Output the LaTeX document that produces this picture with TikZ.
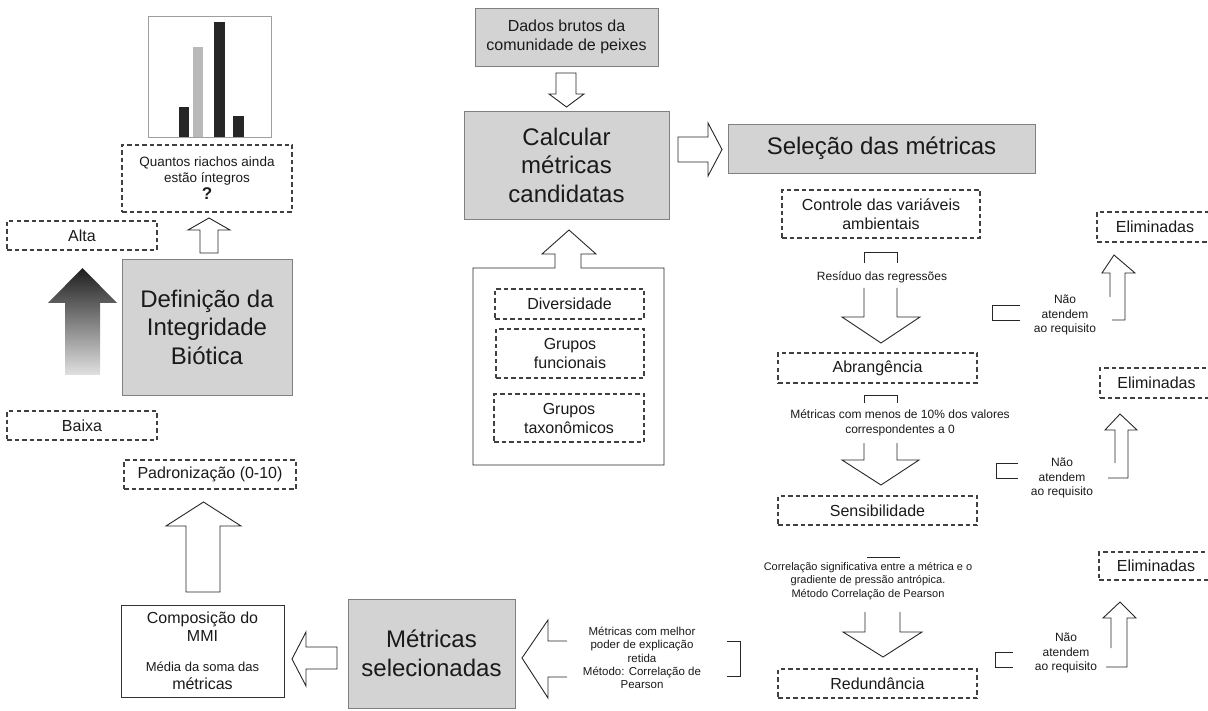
\documentclass[tikz,border=0pt]{standalone}
\usepackage{fontspec}
\setmainfont{Liberation Sans}
\definecolor{txt}{HTML}{1A1A1A}
\definecolor{boxgray}{HTML}{D3D3D3}
\definecolor{bordergray}{HTML}{808080}
\definecolor{dashgray}{HTML}{404040}
\begin{document}
\begin{tikzpicture}[x=1pt,y=-1pt,
  box/.style={inner sep=0pt, outer sep=0pt, align=center, text=txt},
  gbox/.style={box, draw=bordergray, fill=boxgray, line width=0.9pt},
  dbox/.style={box, draw=dashgray, dash pattern=on 4.5pt off 3pt, line width=1.25pt},
  wbox/.style={box, draw=black!80, line width=0.9pt},
  barrow/.style={draw=black!85, fill=white, line width=0.9pt, line join=miter},
  bline/.style={draw=black!85, line width=0.9pt},
  lbl/.style={inner sep=0pt, outer sep=0pt, align=center, text=txt},
  fL/.style={font=\fontsize{24}{28.5}\selectfont},
  fM/.style={font=\fontsize{16}{19}\selectfont},
  fS/.style={font=\fontsize{12}{14.5}\selectfont},
  fXS/.style={font=\fontsize{11}{13.8}\selectfont},
]
\useasboundingbox (0,0) rectangle (1208,711);

% ---------- chart ----------
\draw[draw=gray!75, line width=0.8pt] (148,16) rectangle (271,137);
\fill[black!85] (179,107) rectangle (189,137);
\fill[gray!55] (193,47) rectangle (203,137);
\fill[black!85] (214,22) rectangle (225,137);
\fill[black!85] (233,116) rectangle (244,137);

% ---------- left column ----------
\node[dbox, minimum width=170pt, minimum height=67pt, font=\fontsize{13.5}{16}\selectfont] (quantos) at (207,178.5)
  {Quantos riachos ainda\\estão íntegros\\[1pt]\fontsize{17}{19}\selectfont\bfseries ?};
\node[dbox, fM, minimum width=150pt, minimum height=29pt] (alta) at (82,235.5) {Alta};
\node[gbox, fL, minimum width=170pt, minimum height=136pt] (definicao) at (207,327)
  {Definição da\\Integridade\\Biótica};
\node[dbox, fM, minimum width=150pt, minimum height=29pt] (baixa) at (82,425.5) {Baixa};
\node[dbox, fM, minimum width=172pt, minimum height=29pt] (padron) at (210,474.5) {Padronização (0-10)};
\node[wbox, minimum width=163pt, minimum height=92pt, font=\fontsize{16}{18}\selectfont] (comp) at (202.5,651)
  {Composição do\\MMI\\[12pt]\fontsize{13}{15}\selectfont Média da soma das\\métricas};

% gradient arrow
\shade[top color=black!88, bottom color=black!12]
  (65,375) -- (100,375) -- (100,303) -- (117,303) -- (82.5,268) -- (48,303) -- (65,303) -- cycle;

% Definicao -> Quantos
\draw[barrow] (200,253) -- (218,253) -- (218,230) -- (230,230) -- (209,218) -- (188,230) -- (200,230) -- cycle;
% Comp -> Padron
\draw[barrow] (186,592) -- (220,592) -- (220,526) -- (241,526) -- (203.5,502) -- (166,526) -- (186,526) -- cycle;

% ---------- middle column ----------
\node[gbox, fM, minimum width=183pt, minimum height=58pt] (dados) at (566.5,37)
  {Dados brutos da\\comunidade de peixes};
\node[gbox, fL, minimum width=205pt, minimum height=108pt] (calcular) at (566.5,165)
  {Calcular\\métricas\\candidatas};
\draw[barrow] (556,73) -- (576,73) -- (576,94) -- (584,94) -- (566.5,107) -- (549,94) -- (556,94) -- cycle;

% container with arrow
\draw[barrow] (473,268) -- (555,268) -- (555,254) -- (542,254) -- (569,230) -- (596,254) -- (581,254)
  -- (581,268) -- (664,268) -- (664,465) -- (473,465) -- cycle;
\node[dbox, fM, minimum width=149pt, minimum height=30pt] (divers) at (569.5,304) {Diversidade};
\node[dbox, fM, minimum width=148pt, minimum height=49pt] (funcion) at (570,353.5) {Grupos\\funcionais};
\node[dbox, fM, minimum width=150pt, minimum height=48pt] (taxon) at (569,418) {Grupos\\taxonômicos};

\node[gbox, fL, minimum width=167pt, minimum height=109pt] (metsel) at (431.5,653.5)
  {Métricas\\selecionadas};

% Calcular -> Selecao
\draw[barrow] (678,137) -- (708,137) -- (708,123) -- (722,149.5) -- (708,176) -- (708,162) -- (678,162) -- cycle;

% Metsel -> Comp
\draw[barrow] (337,647) -- (306,647) -- (306,632) -- (292,659) -- (306,686) -- (306,669) -- (337,669) -- cycle;

% long arrow into Metricas selecionadas
\draw[bline, fill=none] (567,641) -- (548,641) -- (548,620) -- (522,658) -- (548,698) -- (548,677) -- (567,677);
\draw[bline] (727,641) -- (740,641) -- (740,676) -- (727,676);
\node[lbl, font=\fontsize{11.5}{13.3}\selectfont] (melhor) at (642,658)
  {Métricas com melhor\\poder de explicação\\retida\\Método: Correlação de\\Pearson};

% ---------- right column ----------
\node[gbox, fL, minimum width=307pt, minimum height=49pt] (selecao) at (881.5,148.5) {Seleção das métricas};
\node[dbox, fM, minimum width=198pt, minimum height=48pt] (controle) at (881,214)
  {Controle das variáveis\\ambientais};
\node[dbox, fM, minimum width=199pt, minimum height=30pt] (abrang) at (877.5,368) {Abrangência};
\node[dbox, fM, minimum width=199pt, minimum height=29pt] (sensib) at (877.5,510.5) {Sensibilidade};
\node[dbox, fM, minimum width=199pt, minimum height=29pt] (redund) at (877.5,683.5) {Redundância};

% arrow 1
\draw[bline] (864,263) -- (864,252) -- (897,252) -- (897,263);
\node[lbl, fS] (residuo) at (882,277) {Resíduo das regressões};
\draw[bline, fill=none] (864,288) -- (864,317) -- (842,317) -- (881,343) -- (920,317) -- (897,317) -- (897,288);
% arrow 2
\draw[bline] (864,403) -- (864,395) -- (897,395) -- (897,403);
\node[lbl, fS] (menos) at (900,423) {Métricas com menos de 10\% dos valores\\correspondentes a 0};
\draw[bline, fill=none] (864,443) -- (864,460) -- (842,460) -- (881,485) -- (919,460) -- (897,460) -- (897,443);
% arrow 3
\draw[bline] (867,557) -- (900,557);
\node[lbl, fXS] (correl) at (868,581)
  {Correlação significativa entre a métrica e o\\gradiente de pressão antrópica.\\Método Correlação de Pearson};
\draw[bline, fill=none] (865,612) -- (865,632) -- (843,632) -- (883,657) -- (922,632) -- (900,632) -- (900,612);

% eliminadas
\node[dbox, fM, minimum width=116pt, minimum height=30pt, text width=116pt] (elim1) at (1155,227) {Eliminadas};
\node[dbox, fM, minimum width=113pt, minimum height=30pt, text width=113pt] (elim2) at (1156.5,383) {Eliminadas};
\node[dbox, fM, minimum width=114pt, minimum height=28pt, text width=114pt] (elim3) at (1156,566) {Eliminadas};

\node[lbl, fS] (nao1) at (1065,315) {Não\\atendem\\ao requisito};
\draw[bline] (1020,305) -- (992,305) -- (992,320) -- (1020,320);
\draw[bline] (1112,320) -- (1125,320) -- (1125,273) -- (1135,273) -- (1114,255) -- (1102,273) -- (1110,273) -- (1110,297);

\node[lbl, fS] (nao2) at (1062,478) {Não\\atendem\\ao requisito};
\draw[bline] (1018,463) -- (996,463) -- (996,478) -- (1018,478);
\draw[bline] (1108,478) -- (1128,478) -- (1128,430) -- (1137,430) -- (1120,414) -- (1105,430) -- (1115,430) -- (1115,463);

\node[lbl, fS] (nao3) at (1066,653) {Não\\atendem\\ao requisito};
\draw[bline] (1013,652) -- (995,652) -- (995,667) -- (1013,667);
\draw[bline] (1106,667) -- (1127,667) -- (1127,618) -- (1136,618) -- (1120,602) -- (1103,618) -- (1111,618) -- (1111,648);
\end{tikzpicture}
\end{document}
